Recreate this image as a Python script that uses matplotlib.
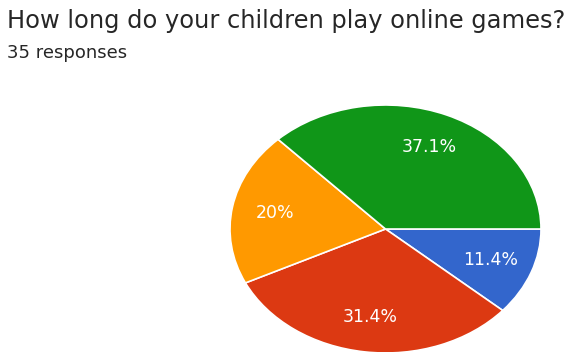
import matplotlib.pyplot as plt

TITLE = 'How long do your children play online games?'
SUBTITLE = '35 responses'

# slices in drawing order (clockwise from 3 o'clock)
shares = [11.4, 31.4, 20.0, 37.1]
labels = ['11.4%', '31.4%', '20%', '37.1%']
colors = ['#3366cc', '#dc3912', '#ff9900', '#109618']

# screenshot is stretched sideways, DejaVu is the widest face we have
plt.rcParams['font.family'] = ['DejaVu Sans']

W, H = 574, 352
fig = plt.figure(figsize=(W / 100, H / 100), dpi=100)
fig.patch.set_facecolor('white')

fig.text(7 / W, 1 - 28 / H, TITLE, fontsize=17.4, color='#262626', va='baseline')
fig.text(7 / W, 1 - 58 / H, SUBTITLE, fontsize=13, color='#262626', va='baseline')

# pie is drawn stretched into an ellipse, like the screenshot
ax = fig.add_axes([230 / W, (H - 353) / H, 311 / W, 248 / H])
wedges, _, autotexts = ax.pie(
    shares, colors=colors, startangle=0, counterclock=False,
    autopct='%s', pctdistance=0.72,
    wedgeprops=dict(edgecolor='white', linewidth=1.2),
)
for t, lab in zip(autotexts, labels):
    t.set_text(lab)
    t.set_color('white')
    t.set_fontsize(12.5)
ax.set_aspect('auto')
ax.set_xlim(-1, 1)
ax.set_ylim(-1, 1)
ax.axis('off')

fig.savefig('out.png', dpi=100)
